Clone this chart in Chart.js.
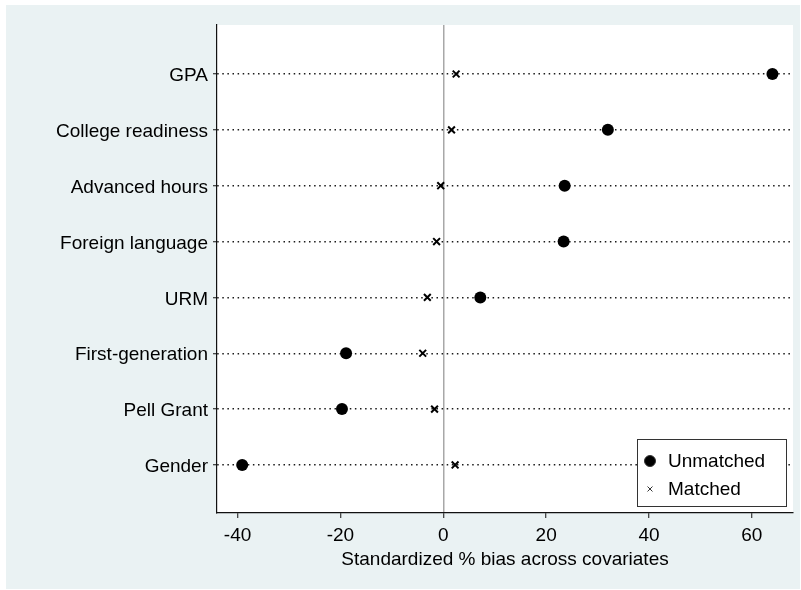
<!DOCTYPE html>
<html>
<head>
<meta charset="utf-8">
<script src="https://cdn.jsdelivr.net/npm/chart.js@4/dist/chart.umd.min.js"></script>
<style>
  html, body { margin: 0; padding: 0; background: #fff; }
  #wrap { width: 801px; height: 590px; }
</style>
</head>
<body>
<div id="wrap"><canvas id="bias-chart" width="801" height="590"></canvas></div>
<script>
// Covariates, top to bottom
const covariates = ['GPA', 'College readiness', 'Advanced hours', 'Foreign language',
                    'URM', 'First-generation', 'Pell Grant', 'Gender'];
// Standardized % bias before and after matching
const unmatchedBias = [64.0, 32.0, 23.6, 23.4, 7.2, -18.9, -19.7, -39.1];
const matchedBias = [2.5, 1.6, -0.5, -1.3, -3.1, -4.0, -1.7, 2.3];
const biasTicks = [-40, -20, 0, 20, 40, 60];

const FONT = 'Helvetica, "Liberation Sans", Arial, sans-serif';
const FONT_SIZE = 19;

function toPoints(values) {
    return values.map((v, i) => ({ x: v, y: i }));
}

// Stata-like panel: light blue-grey frame, white plot region
const backgroundPlugin = {
    id: 'panelBackground',
    beforeDraw(chart) {
        const { ctx, chartArea } = chart;
        ctx.save();
        ctx.fillStyle = '#ffffff';
        ctx.fillRect(0, 0, chart.width, chart.height);
        ctx.fillStyle = '#eaf2f3';
        ctx.fillRect(6, 5, 794, 584);
        ctx.fillStyle = '#ffffff';
        ctx.fillRect(chartArea.left, chartArea.top, chartArea.right - chartArea.left, chartArea.bottom - chartArea.top);
        ctx.restore();
    }
};

// Boxed legend in the lower right of the plot region
const boxLegendPlugin = {
    id: 'boxLegend',
    afterDatasetsDraw(chart) {
        const { ctx, chartArea } = chart;
        const w = 149, h = 67;
        const x = chartArea.right - 7 - w;
        const y = chartArea.bottom - 7 - h;
        ctx.save();
        ctx.fillStyle = '#ffffff';
        ctx.fillRect(x, y, w, h);
        ctx.strokeStyle = '#333333';
        ctx.lineWidth = 1;
        ctx.strokeRect(x + 0.5, y + 0.5, w, h);
        ctx.font = FONT_SIZE + 'px ' + FONT;
        ctx.textBaseline = 'middle';
        ctx.fillStyle = '#000';
        chart.data.datasets.forEach((ds, i) => {
            const cy = y + 22 + i * 28;
            const cx = x + 13;
            Chart.helpers.drawPoint(ctx, {
                pointStyle: ds.pointStyle,
                radius: i === 0 ? 5.5 : 3.5,
                borderWidth: i === 0 ? 1 : 1.6
            }, cx, cy);
            ctx.fillStyle = '#000';
            ctx.fillText(ds.label, x + 31, cy + 1);
        });
        ctx.restore();
    }
};

new Chart(document.getElementById('bias-chart'), {
    type: 'scatter',
    data: {
        datasets: [
            {
                label: 'Unmatched',
                data: toPoints(unmatchedBias),
                pointStyle: 'circle',
                pointRadius: 6,
                pointHoverRadius: 6,
                backgroundColor: '#000',
                borderColor: '#000',
                borderWidth: 0
            },
            {
                label: 'Matched',
                data: toPoints(matchedBias),
                pointStyle: 'crossRot',
                pointRadius: 4.8,
                pointHoverRadius: 4.8,
                backgroundColor: '#000',
                borderColor: '#000',
                borderWidth: 2
            }
        ]
    },
    options: {
        responsive: false,
        animation: false,
        layout: { padding: { left: 0, right: 8, top: 25, bottom: 0 } },
        plugins: {
            legend: { display: false },
            tooltip: { enabled: false }
        },
        scales: {
            x: {
                type: 'linear',
                min: -44,
                max: 68,
                afterFit(scale) { scale.height = 77; },
                afterBuildTicks(scale) { scale.ticks = biasTicks.map(v => ({ value: v })); },
                grid: {
                    drawOnChartArea: true,
                    color: ctx => (ctx.tick && ctx.tick.value === 0) ? '#a8a8a8' : 'rgba(0,0,0,0)',
                    lineWidth: 1.5,
                    tickColor: '#111',
                    tickLength: 5,
                    tickWidth: 1
                },
                border: { display: true, color: '#111', width: 1.2 },
                ticks: {
                    color: '#000',
                    padding: 6,
                    maxRotation: 0,
                    font: { family: FONT, size: FONT_SIZE }
                },
                title: {
                    display: true,
                    text: 'Standardized % bias across covariates',
                    color: '#000',
                    padding: { top: 0, bottom: 19 },
                    font: { family: FONT, size: FONT_SIZE }
                }
            },
            y: {
                type: 'linear',
                reverse: true,
                min: -0.877,
                max: 7.86,
                afterFit(scale) { scale.width = 217; },
                afterBuildTicks(scale) { scale.ticks = covariates.map((_, i) => ({ value: i })); },
                grid: {
                    color: '#1a1a1a',
                    lineWidth: 1.5,
                    tickColor: '#111',
                    tickLength: 4,
                    tickWidth: 1,
                    tickBorderDash: []
                },
                border: { display: true, color: '#111', width: 1.2, dash: [1.5, 3.6] },
                ticks: {
                    color: '#000',
                    padding: 5,
                    labelOffset: 2,
                    font: { family: FONT, size: FONT_SIZE },
                    callback: value => covariates[value]
                }
            }
        }
    },
    plugins: [backgroundPlugin, boxLegendPlugin]
});
</script>
</body>
</html>
